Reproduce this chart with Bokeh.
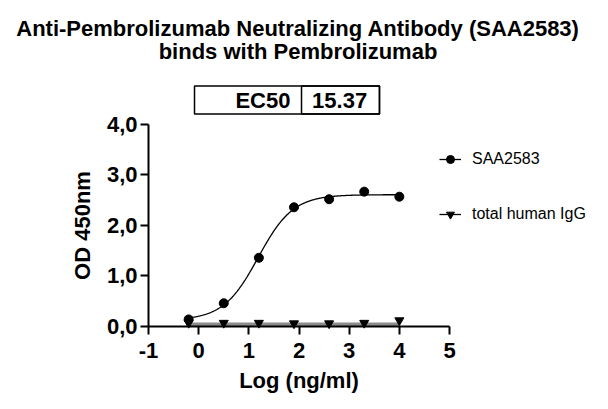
import numpy as np
from bokeh.plotting import figure
from bokeh.models import (Range1d, FixedTicker, Label, BoxAnnotation, Legend,
                          LegendItem, ColumnDataSource, LinearAxis)
from bokeh.embed import file_html
from bokeh.resources import INLINE

# ---- data ----
log_conc = [-0.2, 0.5, 1.2, 1.9, 2.6, 3.3, 4.0]
saa2583 = [0.14, 0.46, 1.36, 2.36, 2.52, 2.67, 2.57]
igg = [0.07, 0.07, 0.07, 0.06, 0.06, 0.07, 0.12]
# 4PL fit of SAA2583 (EC50 = 15.37 ng/ml)
fit_bottom = 0.125
fit_top = 2.61
fit_ec50 = 15.37
fit_hill = 1.25
igg_fit_level = 0.045
x_ticks = [-1, 0, 1, 2, 3, 4, 5]
x_tick_labels = ["-1", "0", "1", "2", "3", "4", "5"]
y_ticks = [0, 1, 2, 3, 4]
y_tick_labels = ["0,0", "1,0", "2,0", "3,0", "4,0"]
title_lines = ["Anti-Pembrolizumab Neutralizing Antibody (SAA2583)",
               "binds with Pembrolizumab"]
series_names = ["SAA2583", "total human IgG"]

FONT = "Liberation Sans"
W, H = 592, 393

# frame covers the whole canvas; the axes sit at fixed data locations
p = figure(width=W, height=H, output_backend="svg", toolbar_location=None,
           x_range=Range1d(-3.950, 7.850), y_range=Range1d(-1.327, 6.455),
           x_axis_type=None, y_axis_type=None,
           min_border=0, min_border_left=0, min_border_right=0,
           min_border_top=0, min_border_bottom=0)
p.outline_line_color = None
p.xgrid.visible = False
p.ygrid.visible = False
p.background_fill_color = "white"

# fitted curve
xc = np.linspace(min(log_conc), max(log_conc), 300)
yc = fit_bottom + (fit_top - fit_bottom) / (1 + 10 ** ((np.log10(fit_ec50) - xc) * fit_hill))
curve = p.line(xc, yc, line_color="black", line_width=1.3)

# IgG fit (flat): thin black line under a grey band
igg_fit_x = [min(log_conc), max(log_conc)]
igg_fit_y = [igg_fit_level, igg_fit_level]
igg_black = p.line(igg_fit_x, igg_fit_y, line_color="black", line_width=1.3)
igg_band = p.line(igg_fit_x, igg_fit_y, line_color="#8c8c8c", line_width=3.5)

src = ColumnDataSource(dict(x=log_conc, saa=saa2583, igg=igg))
pts1 = p.scatter("x", "saa", source=src, marker="circle", size=9,
                 fill_color="black", line_color="black")
pts2 = p.scatter("x", "igg", source=src, marker="inverted_triangle", size=9,
                 fill_color="black", line_color="black")

xaxis = LinearAxis(fixed_location=0, bounds=(x_ticks[0], x_ticks[-1]),
                   ticker=FixedTicker(ticks=x_ticks), axis_label="Log (ng/ml)",
                   major_label_overrides={t: l for t, l in zip(x_ticks, x_tick_labels)})
yaxis = LinearAxis(fixed_location=x_ticks[0], bounds=(y_ticks[0], y_ticks[-1]),
                   ticker=FixedTicker(ticks=y_ticks), axis_label="OD 450nm",
                   major_label_overrides={t: l for t, l in zip(y_ticks, y_tick_labels)})
for ax in (xaxis, yaxis):
    ax.axis_line_width = 2
    ax.major_tick_line_width = 2
    ax.major_tick_out = 8
    ax.major_tick_in = 0
    ax.minor_tick_out = 0
    ax.minor_tick_in = 0
    ax.major_label_text_font = FONT
    ax.major_label_text_font_style = "bold"
    ax.major_label_text_font_size = "22px"
    ax.major_label_text_color = "black"
    ax.axis_label_text_font = FONT
    ax.axis_label_text_font_style = "bold"
    ax.axis_label_text_font_size = "22px"
    ax.axis_label_text_color = "black"
xaxis.major_label_standoff = 9
yaxis.major_label_standoff = 3
xaxis.axis_label_standoff = 6
yaxis.axis_label_standoff = 9
p.add_layout(xaxis, "below")
p.add_layout(yaxis, "left")

def txt(x, y, s, align, size="22px", style="bold"):
    p.add_layout(Label(x=x, y=y, text=s, text_align=align, text_baseline="alphabetic",
                       text_font=FONT, text_font_style=style, text_font_size=size,
                       text_color="black"))

# title
txt(1.98, 5.91, title_lines[0], "center")
txt(1.98, 5.44, title_lines[1], "center")

# EC50 box
box_kw = dict(bottom=4.206, top=4.762, fill_alpha=0, line_color="black",
              line_alpha=1.0, line_width=1.5)
p.add_layout(BoxAnnotation(left=-0.083, right=3.604, **box_kw))
p.add_layout(BoxAnnotation(left=2.05, right=3.604, **box_kw))
txt(1.83, 4.465, "EC50", "right")
txt(2.81, 4.465, f"{fit_ec50:.2f}", "center")

legend = Legend(items=[LegendItem(label=series_names[0], renderers=[curve, pts1]),
                       LegendItem(label=series_names[1], renderers=[igg_black, pts2])],
                location=(439, 169), glyph_width=22, glyph_height=20, label_height=20,
                label_standoff=11, spacing=35, padding=0, margin=0,
                border_line_color=None, background_fill_alpha=0,
                label_text_font=FONT, label_text_font_size="16px",
                label_text_color="black")
p.add_layout(legend, "center")

open("out.html", "w").write(file_html(p, INLINE))
